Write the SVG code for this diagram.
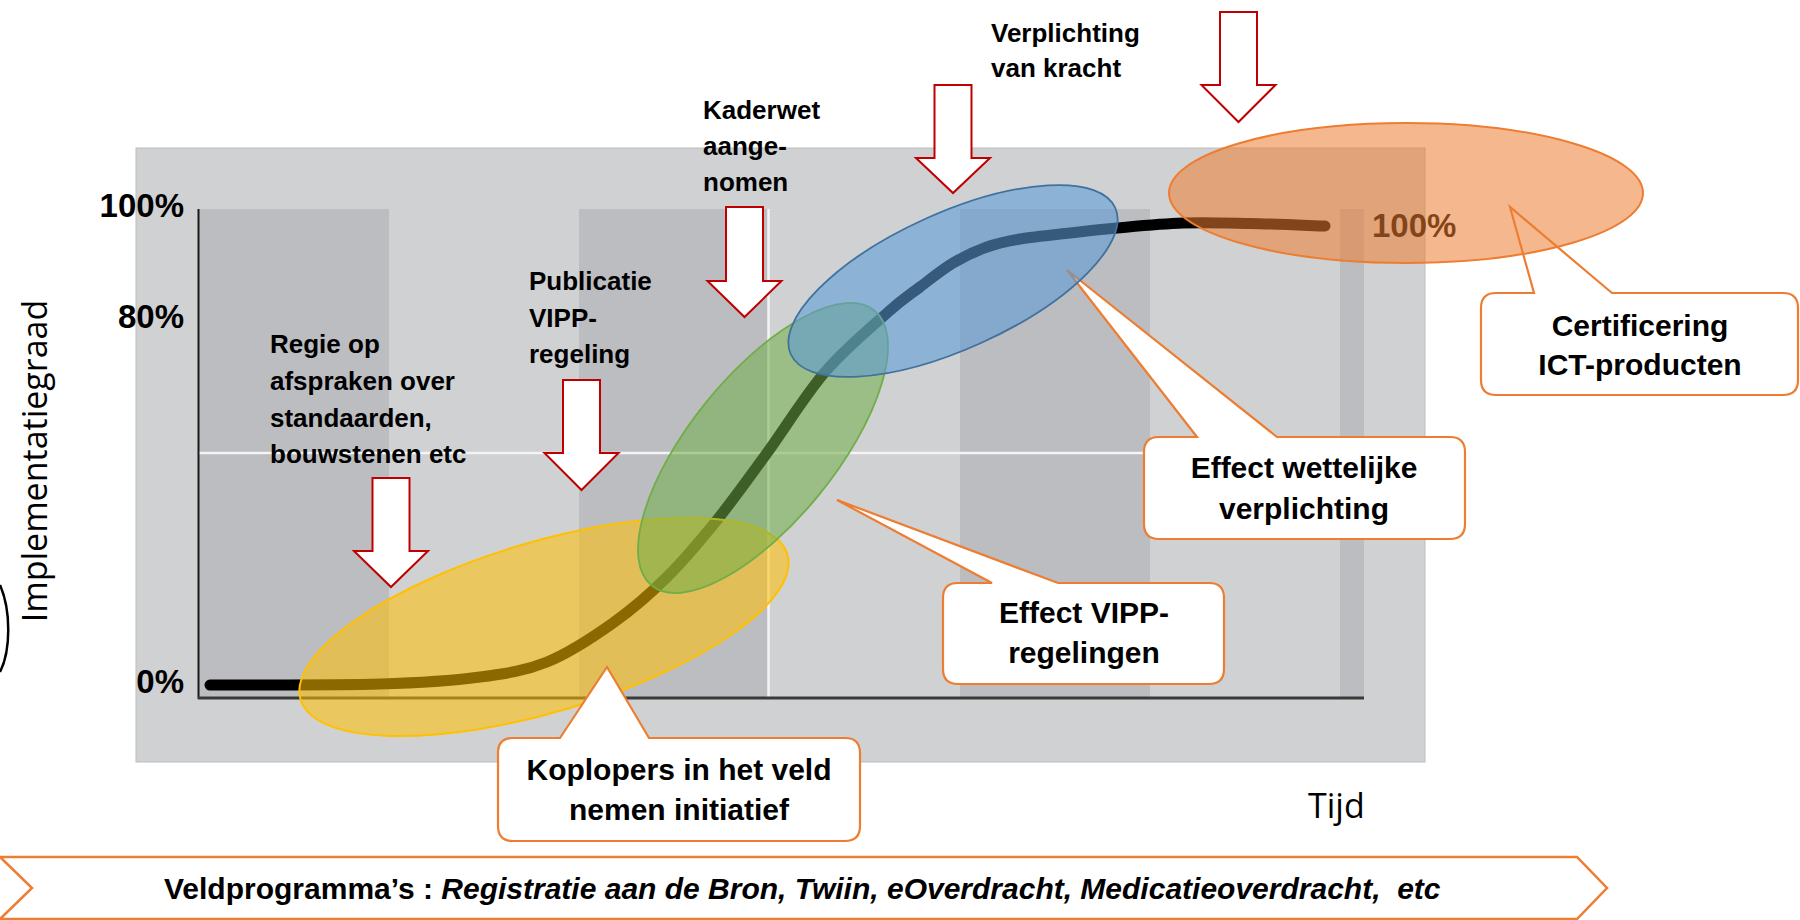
<svg xmlns="http://www.w3.org/2000/svg" width="1800" height="920" viewBox="0 0 1800 920">
  <defs>
    <style>
      .lbl { font-family: "Liberation Sans", Arial, sans-serif; font-weight: bold; fill: #000; }
      .arrowtxt { font-size: 26px; }
      .calltxt { font-size: 30px; text-anchor: middle; }
      .axis { font-size: 33px; text-anchor: end; }
      .light { font-family: "Open Sans", "Liberation Sans", sans-serif; font-weight: 400; fill: #000; font-size: 34px; }
      .stripe { fill: #bcbdc0; }
      .grid { stroke: #f4f4f4; stroke-width: 2.5; }
      .darrow { fill: #ffffff; stroke: #c00000; stroke-width: 2; stroke-linejoin: miter; }
      .callout { fill: #ffffff; stroke: #ed7d31; stroke-width: 2.2; stroke-linejoin: miter; }
    </style>
  </defs>

  <g id="chart-background">
    <rect x="136" y="148" width="1289" height="614" fill="#d0d1d3" stroke="#bdbdbd" stroke-width="1"/>
    <rect class="stripe" x="199" y="209" width="190" height="488"/>
    <rect class="stripe" x="579" y="209" width="189" height="488"/>
    <rect class="stripe" x="960" y="209" width="190" height="488"/>
    <rect class="stripe" x="1340" y="209" width="24" height="488"/>
    <line class="grid" x1="199" y1="453" x2="1364" y2="453"/>
    <line class="grid" x1="768.5" y1="209" x2="768.5" y2="697"/>
    <line x1="198.5" y1="209" x2="198.5" y2="699" stroke="#1a1a1a" stroke-width="2"/>
    <line x1="198" y1="698" x2="1364" y2="698" stroke="#3a3a3a" stroke-width="3"/>
  </g>

  <g id="axis-labels">
    <text class="lbl axis" x="184" y="217">100%</text>
    <text class="lbl axis" x="184" y="328">80%</text>
    <text class="lbl axis" x="184" y="693">0%</text>
    <text class="light" transform="translate(47,461) rotate(-90)" text-anchor="middle">Implementatiegraad</text>
    <text class="light" x="1308" y="818">Tijd</text>
    <path d="M0,585 C11,610 11,650 0,672" fill="none" stroke="#000" stroke-width="2.5"/>
  </g>

  <g id="connectors">
    <path id="s-curve" d="M210,685 C238.3,684.8 335,685.3 380,684 C425,682.7 452.2,680.7 480,677 C507.8,673.3 524.8,671 547,662 C569.2,653 593,637.2 613,623 C633,608.8 649.7,594.2 667,577 C684.3,559.8 700.3,540.7 717,520 C733.7,499.3 749,477.7 767,453 C785,428.3 805,395.3 825,372 C845,348.7 871.2,327.2 887,313 C902.8,298.8 909,295.3 920,287 C931,278.7 941.8,269.7 953,263 C964.2,256.3 975.8,251 987,247 C998.2,243 1006.2,241.3 1020,239 C1033.8,236.7 1053.8,234.8 1070,233 C1086.2,231.2 1098.2,229.7 1117,228 C1135.8,226.3 1160.8,223.75 1183,223 C1205.2,222.25 1226.3,223 1250,223.5 C1273.7,224 1312.5,225.6 1325,226" fill="none" stroke="#000" stroke-width="11" stroke-linecap="round"/>
  </g>

  <g id="hundred-label">
    <text class="lbl" x="1372" y="237" font-size="33" fill="#000">100%</text>
  </g>

  <g id="callout-wet">
    <path class="callout" d="M1159,437 L1197,437 L1067,270 L1277,437 L1450,437 Q1465,437 1465,452 L1465,524 Q1465,539 1450,539 L1159,539 Q1144,539 1144,524 L1144,452 Q1144,437 1159,437 Z"/>
    <text class="lbl calltxt" x="1304" y="478">Effect wettelijke</text>
    <text class="lbl calltxt" x="1304" y="519">verplichting</text>
  </g>
  <g id="callout-cert">
    <path class="callout" d="M1496,293 L1534,293 L1510,207 L1612,293 L1783,293 Q1798,293 1798,308 L1798,380 Q1798,395 1783,395 L1496,395 Q1481,395 1481,380 L1481,308 Q1481,293 1496,293 Z"/>
    <text class="lbl calltxt" x="1640" y="336">Certificering</text>
    <text class="lbl calltxt" x="1640" y="375">ICT-producten</text>
  </g>

  <g id="bubble-koplopers">
    <ellipse cx="544" cy="627" rx="254" ry="85" transform="rotate(-16.6 544 627)" fill="#ffc000" fill-opacity="0.55" stroke="#ffc000" stroke-width="2"/>
  </g>
  <g id="bubble-vipp">
    <ellipse cx="763" cy="448" rx="177" ry="73" transform="rotate(-51 763 448)" fill="#70ad47" fill-opacity="0.55" stroke="#70ad47" stroke-width="1.8"/>
  </g>
  <g id="bubble-wet">
    <ellipse cx="953" cy="281" rx="178" ry="68" transform="rotate(-24.3 953 281)" fill="#5b9bd5" fill-opacity="0.58" stroke="#41719c" stroke-width="1.8"/>
  </g>
  <g id="bubble-cert">
    <ellipse cx="1406" cy="193" rx="237" ry="70" fill="#ed7d31" fill-opacity="0.55" stroke="#ed7d31" stroke-width="2"/>
  </g>

  <g id="arrow-regie">
    <polygon class="darrow" points="372.5,478 409.5,478 409.5,551 428,551 391,587 354,551 372.5,551"/>
    <text class="lbl arrowtxt" x="270" y="353">Regie op</text>
    <text class="lbl arrowtxt" x="270" y="390">afspraken over</text>
    <text class="lbl arrowtxt" x="270" y="427">standaarden,</text>
    <text class="lbl arrowtxt" x="270" y="463">bouwstenen etc</text>
  </g>
  <g id="arrow-publicatie">
    <polygon class="darrow" points="563,380 600,380 600,453 618.5,453 581.5,490 544.5,453 563,453"/>
    <text class="lbl arrowtxt" x="529" y="290">Publicatie</text>
    <text class="lbl arrowtxt" x="529" y="327">VIPP-</text>
    <text class="lbl arrowtxt" x="529" y="363">regeling</text>
  </g>
  <g id="arrow-kaderwet">
    <polygon class="darrow" points="726,207 763,207 763,281 781.5,281 744.5,317 707.5,281 726,281"/>
    <text class="lbl arrowtxt" x="703" y="119">Kaderwet</text>
    <text class="lbl arrowtxt" x="703" y="155">aange-</text>
    <text class="lbl arrowtxt" x="703" y="191">nomen</text>
  </g>
  <g id="arrow-verplichting">
    <polygon class="darrow" points="934.5,85 971.5,85 971.5,158 990,158 953,193 916,158 934.5,158"/>
    <text class="lbl arrowtxt" x="991" y="42">Verplichting</text>
    <text class="lbl arrowtxt" x="991" y="77">van kracht</text>
  </g>
  <g id="arrow-certificering">
    <polygon class="darrow" points="1220,12 1257,12 1257,85 1275.5,85 1238.5,122 1201.5,85 1220,85"/>
  </g>

  <g id="callout-koplopers">
    <path class="callout" d="M513,738 L560,738 L607,667 L649,738 L845,738 Q860,738 860,753 L860,826 Q860,841 845,841 L513,841 Q498,841 498,826 L498,753 Q498,738 513,738 Z"/>
    <text class="lbl calltxt" x="679" y="780">Koplopers in het veld</text>
    <text class="lbl calltxt" x="679" y="820">nemen initiatief</text>
  </g>
  <g id="callout-vipp">
    <path class="callout" d="M958,583 L992,583 L837,500 L1058,583 L1209,583 Q1224,583 1224,598 L1224,669 Q1224,684 1209,684 L958,684 Q943,684 943,669 L943,598 Q943,583 958,583 Z"/>
    <text class="lbl calltxt" x="1084" y="623">Effect VIPP-</text>
    <text class="lbl calltxt" x="1084" y="663">regelingen</text>
  </g>

  <g id="banner">
    <path d="M0,857 L1577,857 L1607,888 L1577,919 L0,919 L32,888 Z" fill="#ffffff" stroke="#ed7d31" stroke-width="2.5"/>
    <text class="lbl" x="164" y="899" font-size="30" xml:space="preserve">Veldprogramma’s : <tspan font-style="italic">Registratie aan de Bron, Twiin, eOverdracht, Medicatieoverdracht,  etc</tspan></text>
  </g>
</svg>
